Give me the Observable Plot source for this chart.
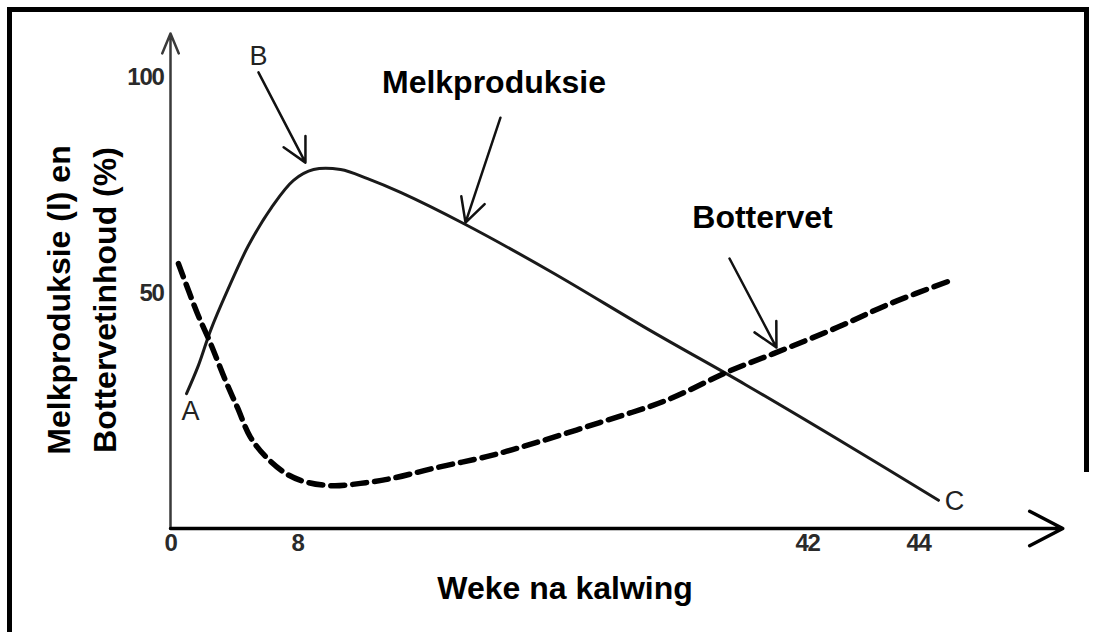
<!DOCTYPE html>
<html>
<head>
<meta charset="utf-8">
<script src="https://cdn.jsdelivr.net/npm/d3@7"></script>
<script src="https://cdn.jsdelivr.net/npm/@observablehq/plot@0.6"></script>
<style>
  html, body { margin: 0; padding: 0; background: #fff; }
  #wrap { position: relative; width: 1094px; height: 632px; overflow: hidden; }
  #wrap svg { position: absolute; left: 0; top: 0; }
  #wrap g[aria-label="x-axis tick label"],
  #wrap g[aria-label="y-axis tick label"] { font-size: 24px; font-weight: bold; letter-spacing: -1.3px; }
  .bl { position: absolute; left: 7px; top: 7px; width: 5px; height: 640px; background: #000; }
  .bt { position: absolute; left: 7px; top: 7px; width: 1082px; height: 5px; background: #000; }
  .br { position: absolute; left: 1084px; top: 7px; width: 5px; height: 465px; background: #000; }
</style>
</head>
<body>
<div id="wrap"><div class="bl"></div><div class="bt"></div><div class="br"></div></div>
<script>
// ---- data (weeks after calving, % of scale) ----
const milkWeeks = [1.01, 1.76, 2.52, 3.59, 4.91, 6.36, 7.75, 9.07, 10.87, 12.67, 14.87, 19.07, 24.87, 31.53, 37.87, 42.77, 44.36];
const milkValues = [28.7, 34.7, 42.1, 50.7, 61.1, 69.9, 76.2, 78.7, 78.7, 76.6, 73.4, 66.2, 55.1, 42.1, 30.6, 17.4, 6.0];

const fatWeeks = [0.50, 1.70, 2.52, 3.46, 4.22, 5.04, 6.11, 7.37, 8.67, 10.4, 12.2, 14.2, 17.07, 20.87, 23.73, 28.2, 32.53, 36.87, 39.73, 42.54, 43.50, 44.58];
const fatValues = [56.9, 45.7, 39.4, 31.5, 25.7, 19.4, 14.9, 11.5, 9.8, 9.1, 9.6, 10.6, 12.8, 15.5, 18.1, 22.6, 27.2, 33.6, 37.2, 42.8, 47.9, 53.0];

const xTicks = [0, 8, 42, 44];
const yTicks = [50, 100];
const xAxisEnd = 46.6;
const yAxisEnd = 110.2;

const seriesNames = ["Melkproduksie", "Bottervet"];
const seriesLabelX = [21.1, 39.0];
const seriesLabelY = [98.8, 67.6];

const pointNames = ["A", "B", "C"];
const pointX = [1.26, 5.54, 44.65];
const pointY = [24.9, 104.9, 5.7];

const arrowX1 = [5.54, 21.53, 36.8];
const arrowY1 = [101.2, 90.7, 58.1];
const arrowX2 = [8.53, 19.2, 39.93];
const arrowY2 = [80.3, 66.4, 38.5];

const xTitle = "Weke na kalwing";
const yTitle = "Melkproduksie (l) en\nBottervetinhoud (%)";

// ---- tables built from the arrays ----
const milk = milkWeeks.map((w, i) => ({w, v: milkValues[i]}));
const fat = fatWeeks.map((w, i) => ({w, v: fatValues[i]}));
const seriesLabels = seriesNames.map((t, i) => ({t, x: seriesLabelX[i], y: seriesLabelY[i]}));
const points = pointNames.map((t, i) => ({t, x: pointX[i], y: pointY[i]}));
const arrows = arrowX1.map((x1, i) => ({x1, y1: arrowY1[i], x2: arrowX2[i], y2: arrowY2[i]}));

const font = "'Liberation Sans', Arial, sans-serif";

const chart = Plot.plot({
  width: 1094,
  height: 632,
  marginLeft: 170,
  marginRight: 31,
  marginTop: 33,
  marginBottom: 104,
  style: {fontFamily: font, background: "transparent", overflow: "visible"},
  x: {type: "linear", domain: [0, 8, 42, 44], range: [170, 297, 807, 918]},
  y: {type: "linear", domain: [0, 50, 100], range: [528, 293, 77]},
  marks: [
    // axes with arrows
    Plot.arrow([0], {x1: 0, y1: 0, x2: 0, y2: yAxisEnd, stroke: "#3a3a3a", strokeWidth: 2.5, headLength: 13, headAngle: 45}),
    Plot.arrow([0], {x1: 0, y1: 0, x2: xAxisEnd, y2: 0, stroke: "#000", strokeWidth: 3.5, headLength: 16, headAngle: 55}),
    Plot.axisX(xTicks, {tickSize: 0, tickPadding: 5, fontSize: 24, fontWeight: "bold", fill: "#2a2a2a", label: null}),
    Plot.axisY(yTicks, {tickSize: 0, tickPadding: 7, fontSize: 24, fontWeight: "bold", fill: "#2a2a2a", label: null}),
    // curves
    Plot.line(milk, {x: "w", y: "v", stroke: "#1a1a1a", strokeWidth: 3, curve: "catmull-rom"}),
    Plot.line(fat, {x: "w", y: "v", stroke: "#000", strokeWidth: 5.5, strokeDasharray: "14,8", curve: "catmull-rom"}),
    // annotation arrows
    Plot.arrow(arrows, {x1: "x1", y1: "y1", x2: "x2", y2: "y2", stroke: "#111", strokeWidth: 2.5, headLength: 16, headAngle: 55}),
    // labels
    Plot.text(seriesLabels, {x: "x", y: "y", text: "t", fontSize: 32, fontWeight: "bold", fill: "#000", textAnchor: "middle"}),
    Plot.text(points, {x: "x", y: "y", text: "t", fontSize: 27, fill: "#222", textAnchor: "middle"}),
    // axis titles
    Plot.text([xTitle], {frameAnchor: "bottom", text: d => d, textAnchor: "middle", lineAnchor: "middle", dx: -52, dy: 60, fontSize: 32, fontWeight: "bold", fill: "#000"}),
    Plot.text([yTitle], {frameAnchor: "left", text: d => d, textAnchor: "middle", lineAnchor: "middle", rotate: -90, dx: -92, dy: 19, lineHeight: 1.42, fontSize: 32, fontWeight: "bold", fill: "#000"})
  ]
});

document.getElementById("wrap").prepend(chart);
</script>
</body>
</html>
